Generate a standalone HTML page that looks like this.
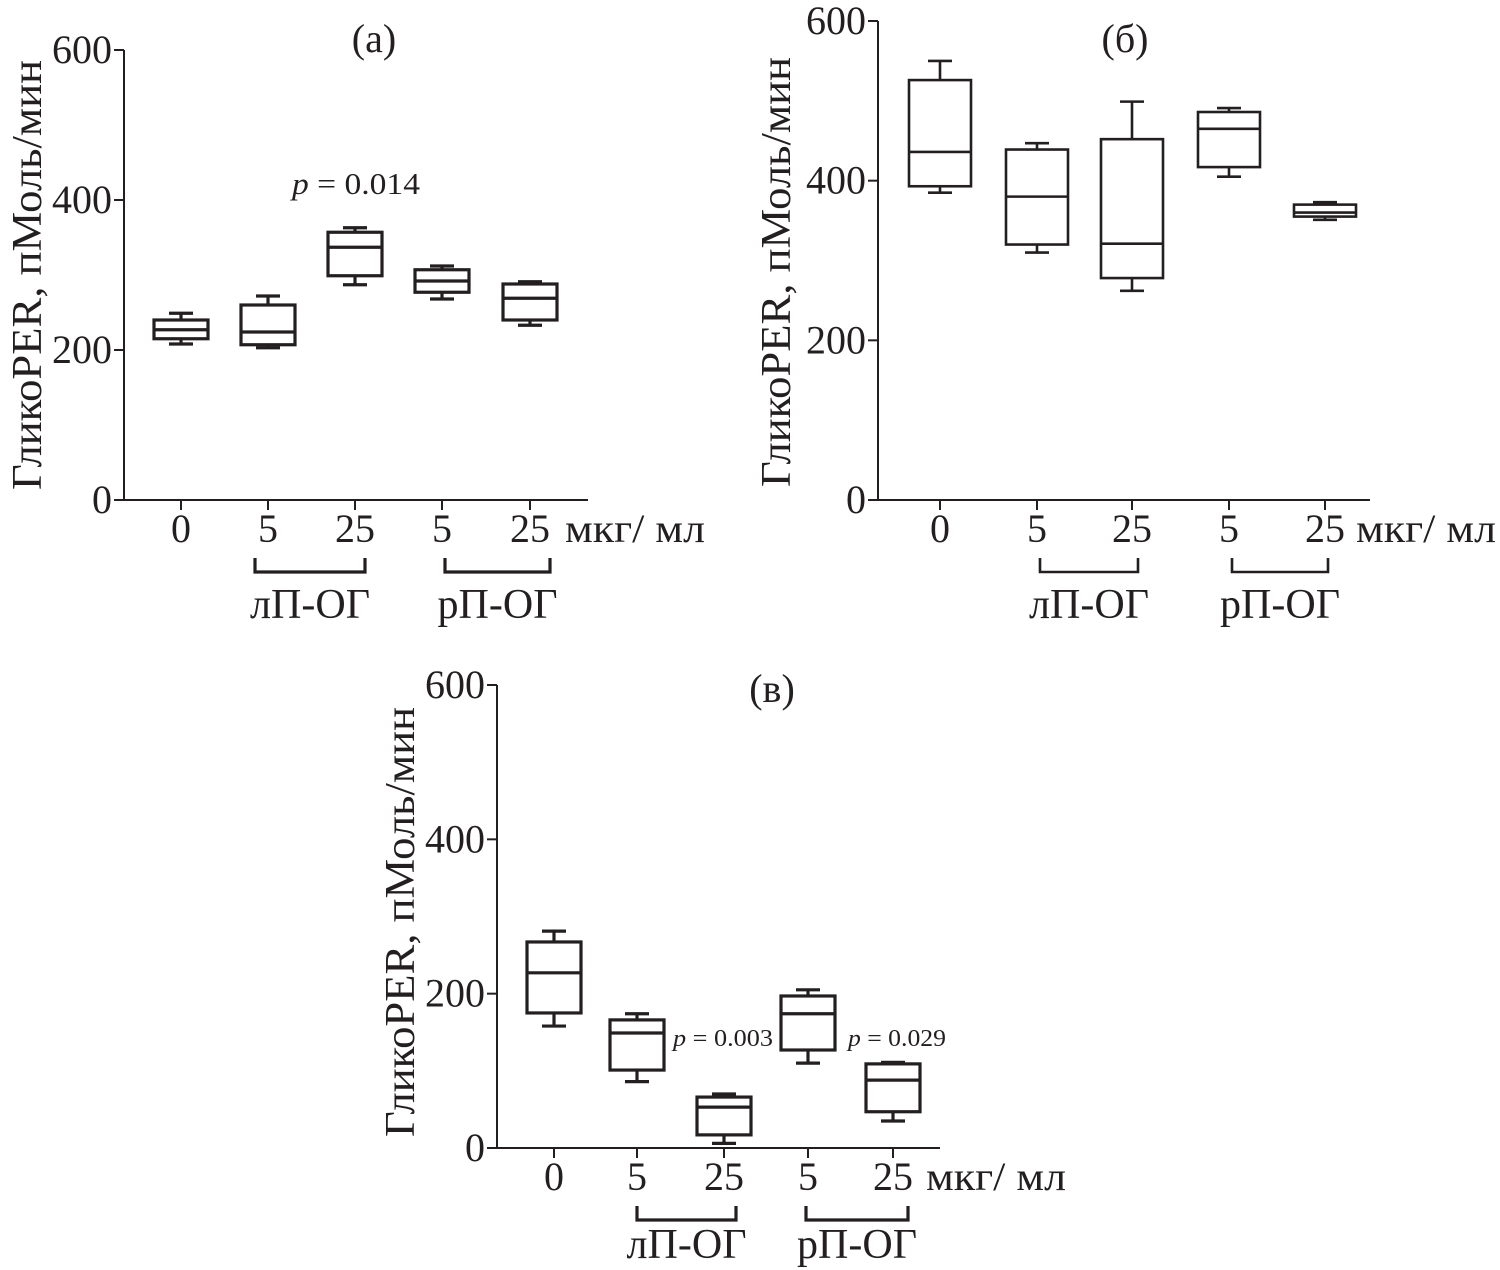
<!DOCTYPE html>
<html><head><meta charset="utf-8"><style>
html,body{margin:0;padding:0;background:#fff}
svg{display:block}
text{font-family:"Liberation Serif",serif;fill:#231f20}
</style></head><body>
<svg id="chart" width="1500" height="1270" viewBox="0 0 1500 1270"></svg>
<script>
const categories = ["0","5","25","5","25"];
const groupLabels = ["лП-ОГ","рП-ОГ"];
const yTicks = [0,200,400,600];
// [whiskerLow, q1, median, q3, whiskerHigh]
const seriesA = [[208,215,227,240,249],[203,207,224,260,272],[287,299,337,357,363],[268,277,292,307,312],[233,240,269,288,291]];
const seriesB = [[385,393,436,526,550],[310,320,380,439,447],[262,278,321,452,499],[405,417,465,486,491],[351,355,360,370,373]];
const seriesC = [[158,175,227,267,281],[86,101,149,166,174],[6,17,53,66,70],[110,127,174,197,205],[35,47,88,109,111]];

const NS="http://www.w3.org/2000/svg";
const svg=document.getElementById('chart');
function mk(tag,attrs,parent){const e=document.createElementNS(NS,tag);for(const k in attrs)e.setAttribute(k,attrs[k]);(parent||svg).appendChild(e);return e;}

const panels=[
 {id:'a',data:seriesA,ax:124,y0:500,y600:50,xEnd:588,xs:[181,268,355,442,530],bw:54,title:'(а)',tx:374,ty:52,ytx:41,yty:275,unitX:565,br:[[255,365],[445,550]],gy:618,sw:3.2},
 {id:'b',data:seriesB,ax:878,y0:500,y600:21,xEnd:1370,xs:[940,1037,1132,1229,1325],bw:62,title:'(б)',tx:1125,ty:52,ytx:790,yty:272,unitX:1356,br:[[1040,1138],[1232,1328]],gy:618,sw:2.6},
 {id:'c',data:seriesC,ax:497,y0:1148,y600:685,xEnd:940,xs:[554,637,724,808,893],bw:54,title:'(в)',tx:772,ty:702,ytx:414,yty:922,unitX:926,br:[[637,736],[806,908]],gy:1258,sw:3.2}
];

panels.forEach(p=>{
 const g=mk('g',{});
 
 
 const Y=v=>p.y0-(p.y0-p.y600)*v/600;
 const ax=mk('path',{d:`M${p.ax},${p.y600} V${p.y0} H${p.xEnd}`,stroke:'#231f20','stroke-width':2,fill:'none'},g);
 
 
 yTicks.forEach(t=>{
  mk('line',{x1:p.ax-10,x2:p.ax,y1:Y(t),y2:Y(t),stroke:'#231f20','stroke-width':2},g);
  const tl=mk('text',{x:p.ax-12,y:Y(t)+13,'text-anchor':'end','font-size':40},g);
  tl.textContent=t;
  
  
 });
 categories.forEach((c,i)=>{
  const x=p.xs[i];
  mk('line',{x1:x,x2:x,y1:p.y0,y2:p.y0+10,stroke:'#231f20','stroke-width':2},g);
  const tl=mk('text',{x:x,y:p.y0+42,'text-anchor':'middle','font-size':40},g);
  tl.textContent=c;
  
  
  const d=p.data[i];
  const bg=mk('g',{stroke:'#231f20','stroke-width':p.sw,fill:'none'},g);
  
  
  const h=p.bw/2,cap=12;
  mk('line',{x1:x,x2:x,y1:Y(d[4]),y2:Y(d[3])},bg);
  mk('line',{x1:x,x2:x,y1:Y(d[1]),y2:Y(d[0])},bg);
  mk('line',{x1:x-cap,x2:x+cap,y1:Y(d[4]),y2:Y(d[4])},bg);
  mk('line',{x1:x-cap,x2:x+cap,y1:Y(d[0]),y2:Y(d[0])},bg);
  mk('rect',{x:x-h,y:Y(d[3]),width:p.bw,height:Y(d[1])-Y(d[3])},bg);
  mk('line',{x1:x-h,x2:x+h,y1:Y(d[2]),y2:Y(d[2])},bg);
 });
 const u=mk('text',{x:p.unitX,y:p.y0+42,'font-size':40,textLength:140,lengthAdjust:'spacingAndGlyphs'},g);
 u.textContent='мкг/ мл';
 
 
 p.br.forEach((b,j)=>{
  const by=p.y0+72;
  const br=mk('path',{d:`M${b[0]},${by-14} V${by} H${b[1]} V${by-14}`,stroke:'#231f20','stroke-width':p.sw,fill:'none'},g);
  
  
  const gl=mk('text',{x:(b[0]+b[1])/2-60,y:p.gy,'font-size':42,textLength:120,lengthAdjust:'spacingAndGlyphs'},g);
  gl.textContent=groupLabels[j];
  
  
 });
 const t=mk('text',{x:p.tx,y:p.ty,'text-anchor':'middle','font-size':40},g);
 t.textContent=p.title;
 
 
 const yt=mk('text',{x:p.ytx,y:p.yty,'text-anchor':'middle','font-size':42,textLength:430,lengthAdjust:'spacingAndGlyphs',transform:`rotate(-90 ${p.ytx} ${p.yty})`},g);
 yt.textContent='ГликоPER, пМоль/мин';
 
 
});

function pval(x,y,s,len,txt){
 const t=mk('text',{x:x,y:y,'font-size':s,textLength:len,lengthAdjust:'spacingAndGlyphs'});
 t.innerHTML='<tspan font-style="italic">p</tspan> = '+txt;
 
 
}
pval(292,194,31,128,'0.014');
pval(673,1046,24,100,'0.003');
pval(848,1046,24,98,'0.029');
</script>
</body></html>
